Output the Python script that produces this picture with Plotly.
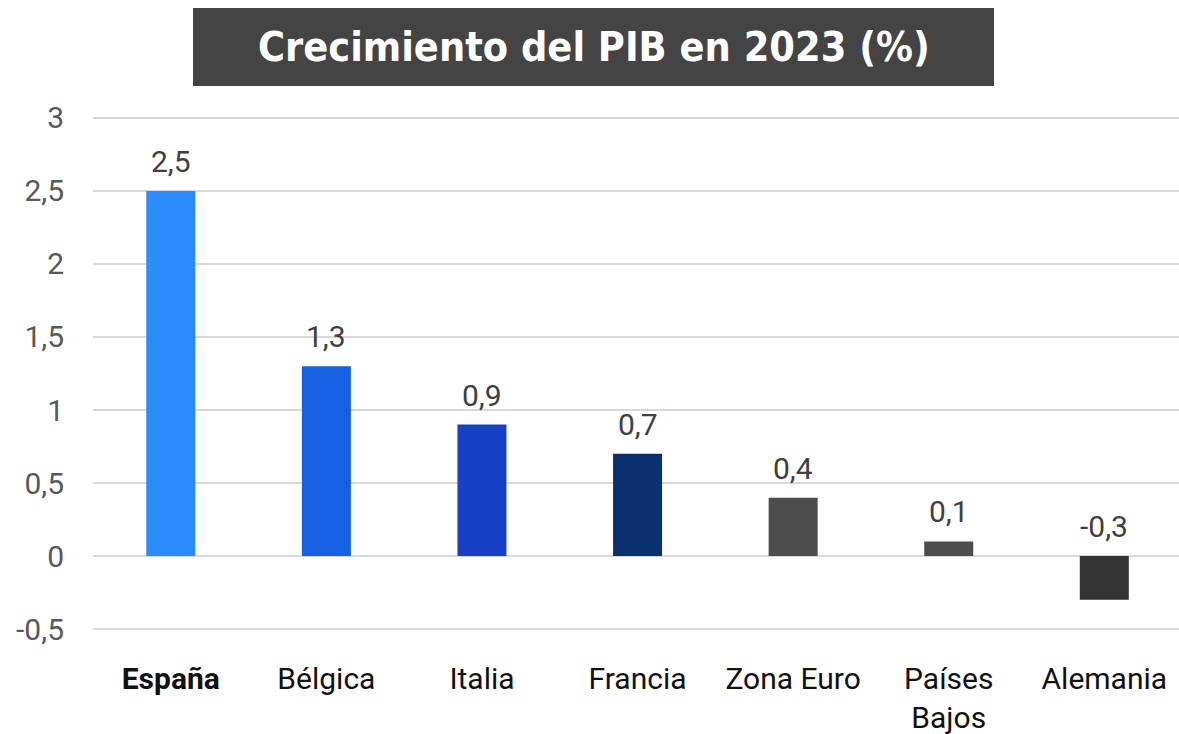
import plotly.graph_objects as go

categories = ["España", "Bélgica", "Italia", "Francia", "Zona Euro", "Países Bajos", "Alemania"]
tick_labels = ["<b>España</b>", "Bélgica", "Italia", "Francia", "Zona Euro", "Países<br>Bajos", "Alemania"]
values = [2.5, 1.3, 0.9, 0.7, 0.4, 0.1, -0.3]
value_labels = ["2,5", "1,3", "0,9", "0,7", "0,4", "0,1", "-0,3"]
colors = ["#2A8BFC", "#1560E3", "#1741C4", "#0C2F6E", "#4D4D4D", "#4D4D4D", "#333333"]
y_ticks = [-0.5, 0, 0.5, 1, 1.5, 2, 2.5, 3]
y_tick_labels = ["-0,5", "0", "0,5", "1", "1,5", "2", "2,5", "3"]

fig = go.Figure()
fig.add_trace(go.Bar(
    x=categories, y=values, marker=dict(color=colors, line=dict(width=0)),
    width=0.315, hoverinfo="skip",
))

for c, v, lab in zip(categories, values, value_labels):
    fig.add_annotation(
        x=c, y=max(v, 0), text=lab, showarrow=False, yanchor="bottom",
        yshift=10, font=dict(family="Roboto", size=30, color="#404040"),
    )

# title box
fig.add_shape(type="rect", xref="paper", yref="paper",
              x0=(193 - 93) / 1086, x1=(994 - 93) / 1086,
              y0=(632 - 86) / 517, y1=(632 - 8) / 517,
              fillcolor="#444444", line=dict(width=0), layer="above")
fig.add_annotation(xref="paper", yref="paper",
                   x=(594 - 93) / 1086, y=(632 - 47) / 517,
                   text="<b>Crecimiento del PIB en 2023 (%)</b>", showarrow=False,
                   xanchor="center", yanchor="middle",
                   font=dict(family="DejaVu Sans Condensed", size=41, color="white"))

fig.update_layout(
    width=1179, height=734,
    margin=dict(l=93, r=0, t=115, b=102, autoexpand=False),
    paper_bgcolor="white", plot_bgcolor="white",
    showlegend=False,
    xaxis=dict(
        range=[-0.5, 6.48], tickmode="array", tickvals=categories, ticktext=tick_labels,
        showgrid=False, showline=False, ticks="", ticklabelstandoff=26, automargin=False,
        tickfont=dict(family="Roboto", size=30, color="#111111"),
    ),
    yaxis=dict(
        range=[-0.52, 3.02], tickmode="array", tickvals=y_ticks, ticktext=y_tick_labels,
        showgrid=True, gridcolor="#D9D9D9", gridwidth=2, zeroline=False, showline=False,
        ticks="", ticklabelstandoff=28, automargin=False,
        tickfont=dict(family="Roboto", size=30, color="#595959"),
    ),
)

fig.write_html(
    "out.html",
    config={"displayModeBar": False},
    post_script="document.body.style.margin='0';document.body.style.overflow='hidden';",
)
